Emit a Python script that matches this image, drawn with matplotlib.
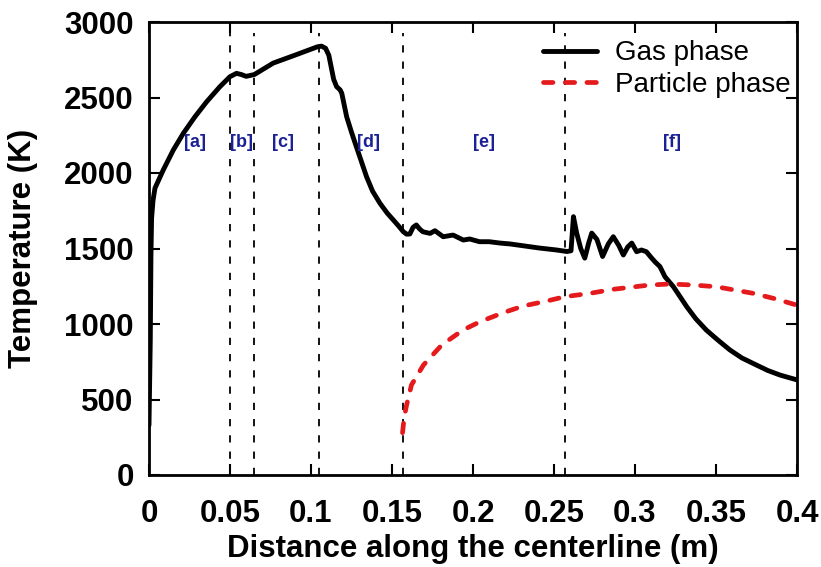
import matplotlib
matplotlib.use("Agg")
import matplotlib.pyplot as plt
from matplotlib.ticker import FixedLocator

plt.rcParams['font.family'] = ['Liberation Sans', 'DejaVu Sans']

# Gas phase temperature along centerline
gas_x = [0.0, 0.0008, 0.0012, 0.0016, 0.0025, 0.0037, 0.0088, 0.015, 0.0212, 0.0284,
         0.0356, 0.0438, 0.050, 0.054, 0.057, 0.060, 0.065, 0.0767, 0.090, 0.100,
         0.104, 0.1065, 0.109, 0.111, 0.1125, 0.114, 0.1158, 0.118, 0.119, 0.122,
         0.125, 0.128, 0.1343, 0.138, 0.1426, 0.147, 0.1508, 0.154, 0.157, 0.159,
         0.161, 0.163, 0.165, 0.167, 0.169, 0.1735, 0.1765, 0.1816, 0.1877, 0.194,
         0.198, 0.204, 0.210, 0.2167, 0.223, 0.231, 0.241, 0.2517, 0.258, 0.2605,
         0.262, 0.264, 0.2665, 0.269, 0.2715, 0.2733, 0.2765, 0.280, 0.2835, 0.2866,
         0.290, 0.2928, 0.2955, 0.298, 0.301, 0.304, 0.307, 0.310, 0.3125, 0.3154,
         0.3185, 0.3237, 0.328, 0.3319, 0.3375, 0.344, 0.351, 0.3586, 0.366, 0.375,
         0.382, 0.3895, 0.395, 0.400]
gas_T = [330, 900, 1450, 1700, 1820, 1900, 2020, 2152, 2263, 2373,
         2472, 2572, 2638, 2660, 2652, 2640, 2652, 2728, 2780, 2820,
         2836, 2840, 2826, 2780, 2700, 2620, 2572, 2550, 2528, 2373,
         2270, 2174, 1975, 1880, 1799, 1735, 1689, 1650, 1611, 1595,
         1596, 1640, 1656, 1630, 1611, 1600, 1618, 1578, 1589, 1556,
         1563, 1545, 1545, 1536, 1530, 1518, 1503, 1490, 1480, 1485,
         1711, 1602, 1500, 1436, 1540, 1602, 1560, 1447, 1530, 1578,
         1520, 1457, 1510, 1536, 1479, 1490, 1479, 1440, 1410, 1380,
         1313, 1247, 1178, 1115, 1035, 960, 895, 828, 775, 728,
         692, 662, 645, 630]

# Particle phase temperature
part_x = [0.1565, 0.1575, 0.159, 0.162, 0.1694, 0.1807, 0.1938, 0.2043, 0.2187, 0.231,
          0.2455, 0.2568, 0.2722, 0.2866, 0.309, 0.3216, 0.336, 0.350, 0.373, 0.3854, 0.400]
part_T = [280, 380, 463, 596, 728, 861, 960, 1015, 1075, 1119,
          1152, 1181, 1203, 1230, 1258, 1265, 1258, 1247, 1203, 1170, 1125]

# Region boundaries and labels
bounds = [0.05, 0.065, 0.105, 0.157, 0.257]
region_labels = ['[a]', '[b]', '[c]', '[d]', '[e]', '[f]']
region_x = [0.0284, 0.0574, 0.0827, 0.1358, 0.2068, 0.323]
region_y = 2200

xticks = [0, 0.05, 0.1, 0.15, 0.2, 0.25, 0.3, 0.35, 0.4]
xtick_labels = ['0', '0.05', '0.1', '0.15', '0.2', '0.25', '0.3', '0.35', '0.4']
yticks = [0, 500, 1000, 1500, 2000, 2500, 3000]

fig = plt.figure(figsize=(8.21, 5.67), dpi=100)
ax = fig.add_axes([149/821, 1-475/567, (797-149)/821, (475-22)/567])

for b in bounds:
    ax.axvline(b, ymin=0, ymax=0.975, color='black', lw=1.3, dashes=(4, 5))

ax.plot(gas_x, gas_T, color='black', lw=3.5, solid_joinstyle='round',
        solid_capstyle='round', label='Gas phase')
ax.plot(part_x, part_T, color='#e41a1c', lw=3.4, dashes=(2.0, 2.6),
        dash_capstyle='round', label='Particle phase')

for lab, xx in zip(region_labels, region_x):
    ax.text(xx, region_y, lab, color='#1c2196', fontsize=13, fontweight='bold',
            ha='center', va='center')

ax.set_xlim(0, 0.4)
ax.set_ylim(0, 3000)
ax.xaxis.set_major_locator(FixedLocator(xticks))
ax.set_xticklabels(xtick_labels)
ax.yaxis.set_major_locator(FixedLocator(yticks))

ax.tick_params(direction='in', length=8, width=1.5, top=True, right=True,
               labelsize=22.5)
ax.tick_params(axis='x', pad=17)
ax.tick_params(axis='y', pad=11)
for lbl in ax.get_xticklabels() + ax.get_yticklabels():
    lbl.set_fontweight('bold')
for sp in ax.spines.values():
    sp.set_linewidth(2)

ax.set_xlabel('Distance along the centerline (m)', fontsize=22.5, fontweight='bold')
ax.set_ylabel('Temperature (K)', fontsize=22.5, fontweight='bold')
ax.xaxis.set_label_coords(0.5, -0.13)
ax.yaxis.set_label_coords(-0.172, 0.5)

leg = ax.legend(loc='upper right', bbox_to_anchor=(0.9907, 0.9596), frameon=False,
                fontsize=20, handlelength=1.95, handletextpad=0.65, labelspacing=0.2,
                borderaxespad=0, borderpad=0)

fig.savefig('out.png', dpi=100)
